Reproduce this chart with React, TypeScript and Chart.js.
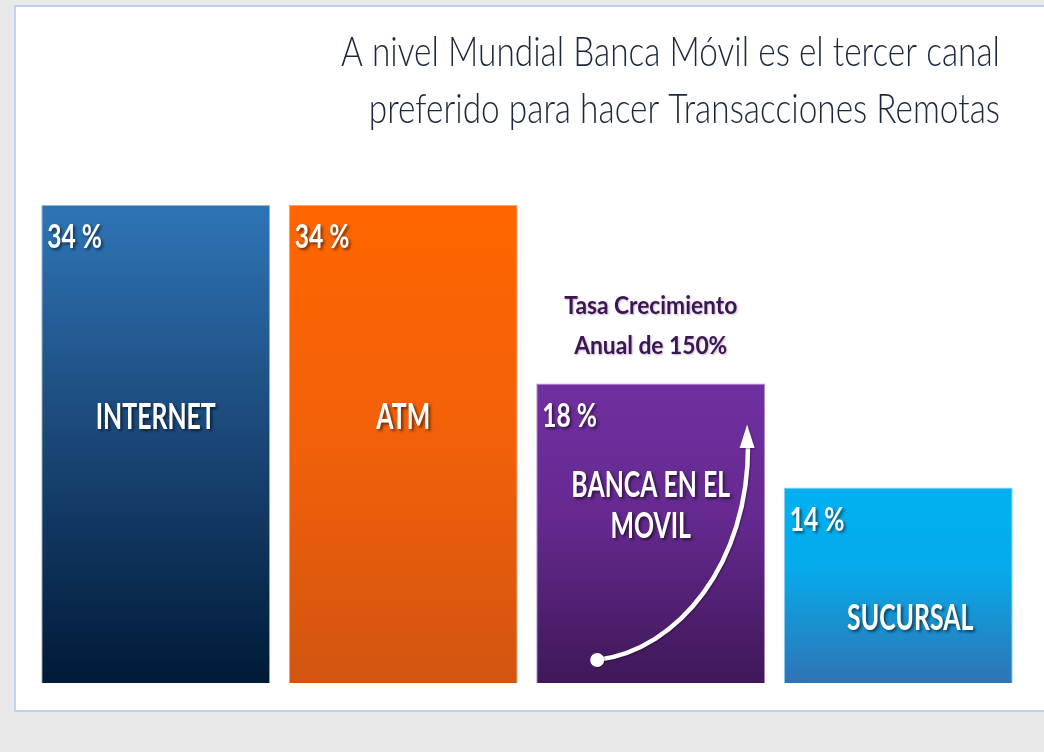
import React, { useEffect, useRef } from 'react';
import { Chart, registerables } from 'chart.js';

Chart.register(...registerables);

// ---- data ----
const categories = ['INTERNET', 'ATM', 'BANCA EN EL MOVIL', 'SUCURSAL'];
const categoryLines = [['INTERNET'], ['ATM'], ['BANCA EN EL', 'MOVIL'], ['SUCURSAL']];
const shareLabels = ['34 %', '34 %', '18 %', '14 %'];
// bar heights as drawn in the picture (same scale as the 34 % bars)
const barValues = [34, 34, 21.3, 13.9];
const titleLines = [
  'A nivel Mundial Banca Móvil es el tercer canal',
  'preferido para hacer Transacciones Remotas',
];
const noteLines = ['Tasa Crecimiento', 'Anual de 150%'];
const noteBarIndex = 2;

// ---- style ----
const W = 1044;
const H = 752;
const gradients: [number, string][][] = [
  [[0, '#2e75b6'], [0.5, '#1a4676'], [1, '#001a37']],
  [[0, '#ff6600'], [0.5, '#f2600a'], [1, '#d2550f']],
  [[0, '#7030a0'], [0.45, '#65298f'], [1, '#3f1858']],
  [[0, '#00b0f0'], [0.4, '#05acec'], [1, '#2f74b5']],
];
const borderColors = ['#8fb8e0', '#f7a56e', '#a98bc9', '#8fd3f4'];
const labelPos = [
  { fy: 0.469, dx: 0 },
  { fy: 0.469, dx: 0 },
  { fy: 0.378, dx: 0 },
  { fy: 0.728, dx: 12 },
];
const BOLD = '"Lato", "Open Sans", sans-serif';
const LIGHT = '"Lato", "Open Sans", sans-serif';
const SQ_PCT = 0.77;
const SQ_CAT = 0.69;

function drawText(
  ctx: CanvasRenderingContext2D,
  text: string,
  x: number,
  y: number,
  font: string,
  color: string,
  sx: number,
  align: CanvasTextAlign
) {
  ctx.save();
  ctx.font = font;
  ctx.fillStyle = color;
  ctx.textBaseline = 'alphabetic';
  ctx.textAlign = align;
  ctx.translate(x, y);
  ctx.scale(sx, 1);
  ctx.fillText(text, 0, 0);
  ctx.restore();
}

const slidePlugin = {
  id: 'slide',
  beforeDraw(chart: any) {
    const ctx: CanvasRenderingContext2D = chart.ctx;
    ctx.save();
    ctx.fillStyle = '#e9e9e9';
    ctx.fillRect(0, 0, W, H);
    ctx.fillStyle = '#ffffff';
    ctx.fillRect(15, 6, W + 20, 705);
    ctx.strokeStyle = '#bcd5ee';
    ctx.lineWidth = 2;
    ctx.strokeRect(15, 6, W + 20, 705);
    ctx.restore();

    // title
    ctx.save();
    const tFont = `300 42px ${LIGHT}`;
    ctx.font = tFont;
    const w1 = ctx.measureText(titleLines[0]).width;
    const sx = 659 / w1;
    ctx.restore();
    drawText(ctx, titleLines[0], 1000, 66, tFont, '#1a283c', sx, 'right');
    drawText(ctx, titleLines[1], 1000, 123, tFont, '#1a283c', sx, 'right');
  },
  afterDatasetsDraw(chart: any) {
    const ctx: CanvasRenderingContext2D = chart.ctx;
    const meta = chart.getDatasetMeta(0);
    meta.data.forEach((bar: any, i: number) => {
      const left = bar.x - bar.width / 2;
      const top = bar.y;
      const h = bar.base - bar.y;
      ctx.save();
      ctx.shadowColor = 'rgba(0,0,0,0.55)';
      ctx.shadowOffsetX = 2;
      ctx.shadowOffsetY = 2;
      ctx.shadowBlur = 3;
      drawText(ctx, shareLabels[i], left + 6, top + 43, `700 32px ${BOLD}`, '#ffffff', SQ_PCT, 'left');
      const lines = categoryLines[i];
      const p = labelPos[i];
      lines.forEach((ln, k) => {
        drawText(ctx, ln, bar.x + p.dx, top + p.fy * h + k * 41, `700 36px ${BOLD}`, '#ffffff', SQ_CAT, 'center');
      });
      ctx.restore();

      if (i === noteBarIndex) {
        const w = bar.width;
        const P = (fx: number, fy: number) => [left + fx * w, top + fy * h];
        ctx.save();
        ctx.shadowColor = 'rgba(0,0,0,0.35)';
        ctx.shadowOffsetX = 1;
        ctx.shadowOffsetY = 1;
        ctx.shadowBlur = 2;
        ctx.strokeStyle = '#ffffff';
        ctx.fillStyle = '#ffffff';
        ctx.lineWidth = 4.5;
        ctx.lineCap = 'round';
        const s = P(0.266, 0.923);
        const c1 = P(0.62, 0.89);
        const c2 = P(0.93, 0.6);
        const e = P(0.925, 0.2);
        ctx.beginPath();
        ctx.moveTo(s[0], s[1]);
        ctx.bezierCurveTo(c1[0], c1[1], c2[0], c2[1], e[0], e[1]);
        ctx.stroke();
        const tip = P(0.921, 0.137);
        const by = top + 0.215 * h;
        ctx.beginPath();
        ctx.moveTo(tip[0], tip[1]);
        ctx.lineTo(tip[0] + 7.5, by);
        ctx.lineTo(tip[0] - 7.5, by);
        ctx.closePath();
        ctx.fill();
        ctx.beginPath();
        ctx.arc(s[0], s[1], 7, 0, Math.PI * 2);
        ctx.fill();
        ctx.restore();

        ctx.save();
        ctx.shadowColor = 'rgba(90,40,120,0.35)';
        ctx.shadowOffsetX = 1;
        ctx.shadowOffsetY = 1;
        ctx.shadowBlur = 2;
        drawText(ctx, noteLines[0], bar.x, top - 70, `700 25px ${BOLD}`, '#3b1650', 0.91, 'center');
        drawText(ctx, noteLines[1], bar.x, top - 30, `700 25px ${BOLD}`, '#3b1650', 0.91, 'center');
        ctx.restore();
      }
    });
  },
};

export default function App() {
  const ref = useRef<HTMLCanvasElement | null>(null);
  useEffect(() => {
    if (!ref.current) return;
    const chart = new Chart(ref.current, {
      type: 'bar',
      data: {
        labels: categories,
        datasets: [
          {
            data: barValues,
            backgroundColor: (c: any) => {
              const chart = c.chart;
              const ys = chart.scales && chart.scales.y;
              const stops = gradients[c.dataIndex ?? 0] || gradients[0];
              if (!ys || typeof c.raw !== 'number') return stops[0][1];
              const top = ys.getPixelForValue(c.raw);
              const bot = ys.getPixelForValue(0);
              if (!isFinite(top) || !isFinite(bot)) return stops[0][1];
              const g = chart.ctx.createLinearGradient(0, top, 0, bot);
              stops.forEach(([o, col]) => g.addColorStop(o, col));
              return g;
            },
            borderColor: borderColors,
            borderWidth: 1,
            barPercentage: 0.925,
            categoryPercentage: 1,
          },
        ],
      },
      options: {
        responsive: false,
        animation: false,
        layout: { padding: { left: 32, right: 22, top: 205, bottom: 69 } },
        plugins: { legend: { display: false }, tooltip: { enabled: false }, title: { display: false } },
        scales: {
          x: { display: false, offset: true },
          y: { display: false, min: 0, max: 34 },
        },
      },
      plugins: [slidePlugin],
    });
    return () => chart.destroy();
  }, []);
  return (
    <div style={{ position: 'fixed', left: 0, top: 0, width: W, height: H }}>
      <canvas ref={ref} width={W} height={H} style={{ display: 'block', width: W, height: H }} />
    </div>
  );
}
